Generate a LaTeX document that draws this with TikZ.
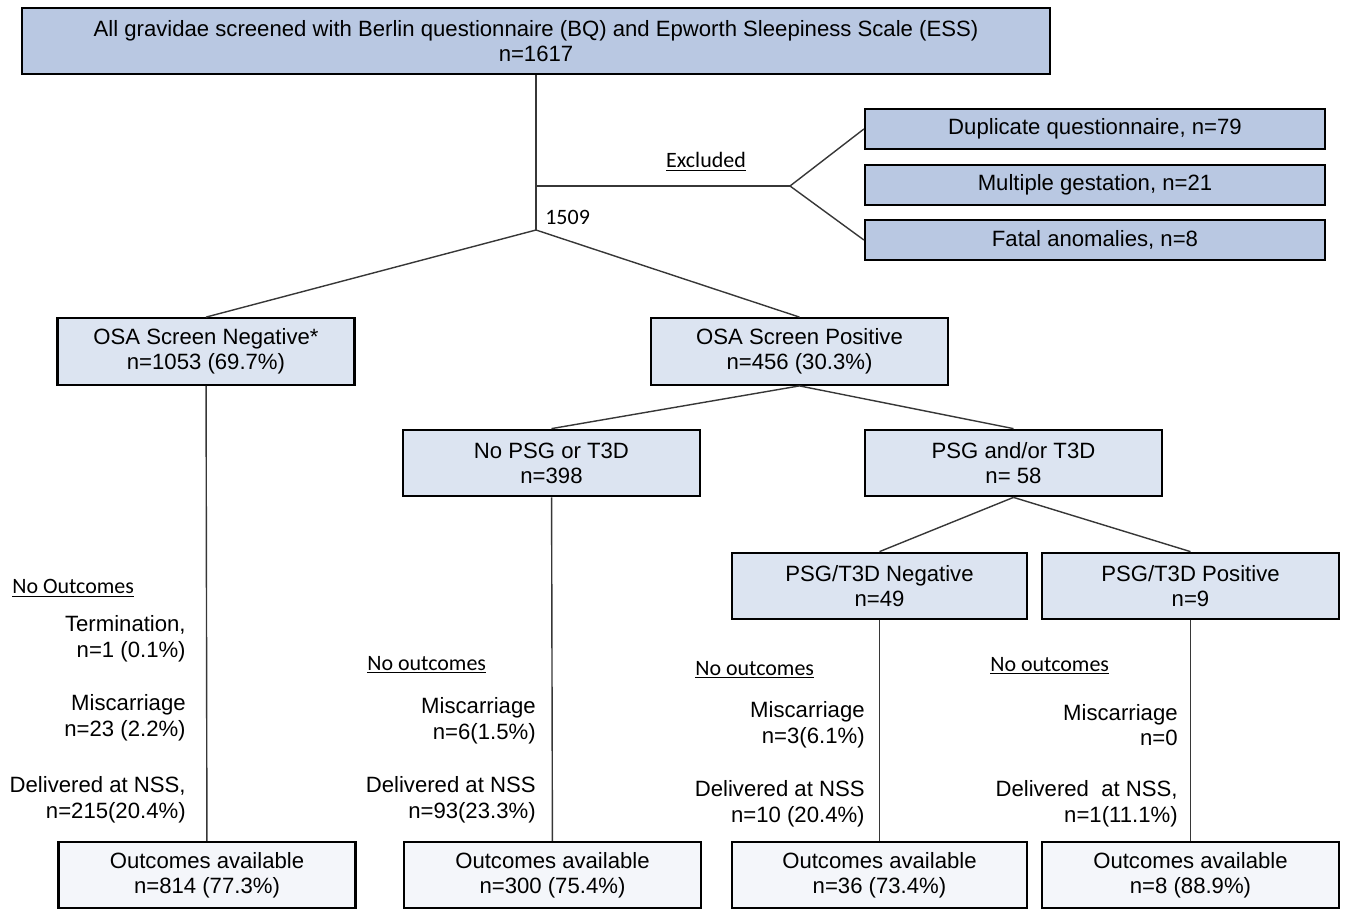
\documentclass[tikz,border=0pt]{standalone}
\usepackage{fontspec}
\setmainfont{Liberation Sans}
\newfontfamily\labelfont{Carlito}
\usepackage{xcolor}
\definecolor{headfill}{RGB}{185,200,226}
\definecolor{midfill}{RGB}{220,228,241}
\definecolor{endfill}{RGB}{244,246,250}
\definecolor{wire}{RGB}{55,55,55}
\usetikzlibrary{positioning}

\begin{document}
\begin{tikzpicture}[
  x=0.02cm, y=-0.02cm,
  box/.style={draw=black, line width=1.3pt, inner sep=0pt, align=center,
              font=\fontsize{12.6}{14.3}\selectfont},
  headbox/.style={box, fill=headfill, minimum width=20.56cm, minimum height=1.32cm},
  exclbox/.style={box, fill=headfill, minimum width=9.2cm, minimum height=0.8cm},
  groupbox/.style={box, fill=midfill, minimum width=5.94cm, minimum height=1.33cm},
  outbox/.style={box, fill=endfill, minimum width=5.94cm, minimum height=1.32cm},
  note/.style={inner sep=0pt, align=right, anchor=east,
               font=\fontsize{12.6}{14.7}\selectfont},
  tag/.style={inner sep=0pt, font=\labelfont\fontsize{12.5}{14}\selectfont},
  link/.style={draw=wire, line width=0.8pt},
]
  \useasboundingbox (0,0) rectangle (1347,910);

  % boxes
  \node[headbox] (all) at (536,41)
    {All gravidae screened with Berlin questionnaire (BQ) and Epworth Sleepiness Scale (ESS)\\n=1617};
  \node[exclbox] (dup) at (1095,129) {Duplicate questionnaire, n=79};
  \node[exclbox] (multi) at (1095,185) {Multiple gestation, n=21};
  \node[exclbox] (fatal) at (1095,240) {Fatal anomalies, n=8};

  \node[groupbox] (neg) at (206,351.5) {OSA Screen Negative*\\n=1053 (69.7\%)};
  \node[groupbox] (pos) at (799.5,351.5) {OSA Screen Positive\\n=456 (30.3\%)};
  \node[groupbox] (nopsg) at (551.5,463) {No PSG or T3D\\n=398};
  \node[groupbox] (psg) at (1013.5,463) {PSG and/or T3D\\n= 58};
  \node[groupbox, minimum width=5.9cm] (psgneg) at (879.5,586) {PSG/T3D Negative\\n=49};
  \node[groupbox] (psgpos) at (1190.5,586) {PSG/T3D Positive\\n=9};

  \node[outbox] (out1) at (207,875) {Outcomes available\\n=814 (77.3\%)};
  \node[outbox] (out2) at (552.5,875) {Outcomes available\\n=300 (75.4\%)};
  \node[outbox, minimum width=5.9cm] (out3) at (879.5,875) {Outcomes available\\n=36 (73.4\%)};
  \node[outbox] (out4) at (1190.5,875) {Outcomes available\\n=8 (88.9\%)};

  % branch points
  \coordinate (split) at (536,230);
  \coordinate (tap) at (536,186);
  \coordinate (excl) at (790,186);

  % connectors
  \draw[link] (all.south) -- (split);
  \draw[link] (tap) -- (excl);
  \draw[link] (excl) -- (dup.west);
  \draw[link] (excl) -- (fatal.west);
  \draw[link] (split) -- (neg.north);
  \draw[link] (split) -- (pos.north);
  \draw[link] (pos.south) -- (nopsg.north);
  \draw[link] (pos.south) -- (psg.north);
  \draw[link] (psg.south) -- (psgneg.north);
  \draw[link] (psg.south) -- (psgpos.north);
  \draw[link] (neg) -- (out1);
  \draw[link] (nopsg) -- (out2);
  \draw[link] (psgneg) -- (out3);
  \draw[link] (psgpos) -- (out4);

  % labels
  \node[tag] (exlabel) at (706,162) {\underline{Excluded}};
  \node[tag, anchor=west] (kept) at (545,217) {1509};

  \node[tag, anchor=west] (none1) at (12,588) {\underline{No Outcomes}};
  \node[note] (term1) at (186,639) {Termination,\\n=1 (0.1\%)};
  \node[note] (misc1) at (186,718) {Miscarriage\\n=23 (2.2\%)};
  \node[note] (deliv1) at (186,800) {Delivered at NSS,\\n=215(20.4\%)};

  \node[tag, anchor=west] (none2) at (367,665) {\underline{No outcomes}};
  \node[note] (misc2) at (536,721) {Miscarriage\\n=6(1.5\%)};
  \node[note] (deliv2) at (536,800) {Delivered at NSS\\n=93(23.3\%)};

  \node[tag, anchor=west] (none3) at (695,670) {\underline{No outcomes}};
  \node[note] (misc3) at (865,725) {Miscarriage\\n=3(6.1\%)};
  \node[note] (deliv3) at (865,804) {Delivered at NSS\\n=10 (20.4\%)};

  \node[tag, anchor=west] (none4) at (990,666) {\underline{No outcomes}};
  \node[note] (misc4) at (1178,725) {Miscarriage\\n=0};
  \node[note] (deliv4) at (1178,804) {Delivered\ \ at NSS,\\n=1(11.1\%)};
\end{tikzpicture}
\end{document}
